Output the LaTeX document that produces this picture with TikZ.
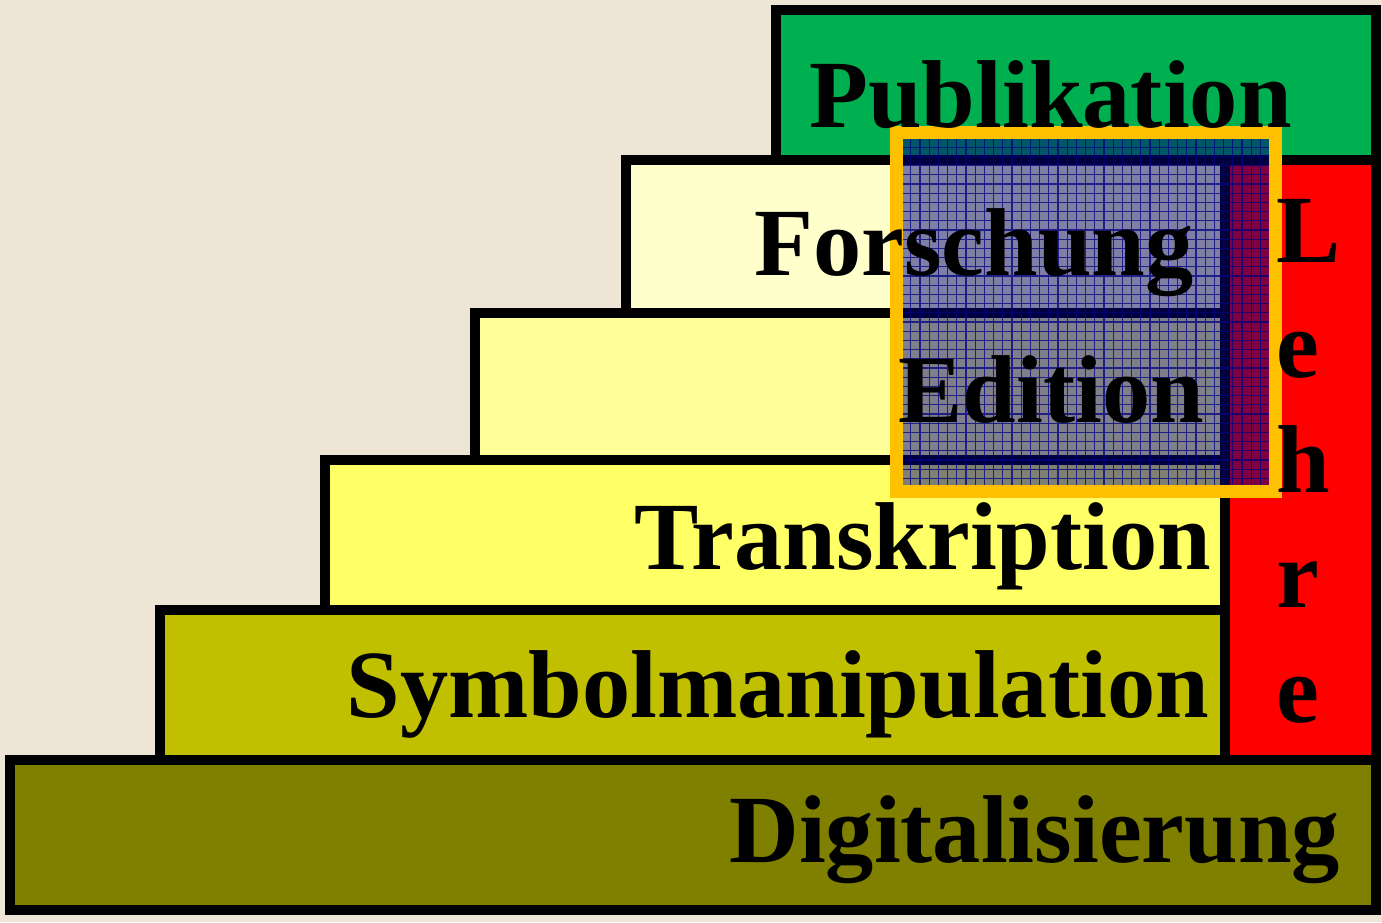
\documentclass[tikz,border=0pt]{standalone}
\usepackage{fontspec}
\setmainfont{Liberation Serif}
\usepackage{tikz}

\definecolor{bgbeige}{RGB}{239,229,214}
\definecolor{digiolive}{RGB}{128,128,0}
\definecolor{symbolive}{RGB}{192,192,0}
\definecolor{transyellow}{RGB}{255,255,102}
\definecolor{edityellow}{RGB}{255,255,153}
\definecolor{forschyellow}{RGB}{255,255,204}
\definecolor{pubgreen}{RGB}{0,176,80}
\definecolor{lehrered}{RGB}{255,0,0}
\definecolor{overlaynavy}{RGB}{0,0,128}
\definecolor{overlayorange}{RGB}{255,192,0}

\begin{document}
\begin{tikzpicture}[x=0.5pt,y=0.5pt,yscale=-1,xscale=1,
  stepbox/.style={draw=black,line width=5pt},
  steplabel/.style={anchor=base west,inner sep=0pt,font=\fontsize{48.2}{57.5}\selectfont\bfseries}]
\useasboundingbox (0,0) rectangle (1382,922);
\fill[bgbeige] (0,0) rectangle (1382,922);

%Shape: Rectangle [Digitalisierung]
\draw[stepbox,fill=digiolive] (10,760) rectangle (1376,910);
%Shape: Rectangle [Symbolmanipulation]
\draw[stepbox,fill=symbolive] (160,610) rectangle (1225,760);
%Shape: Rectangle [Transkription]
\draw[stepbox,fill=transyellow] (325,460) rectangle (1225,610);
%Shape: Rectangle [Edition]
\draw[stepbox,fill=edityellow] (475,313) rectangle (1225,460);
%Shape: Rectangle [Forschung]
\draw[stepbox,fill=forschyellow] (626,160) rectangle (1225,313);
%Shape: Rectangle [Publikation]
\draw[stepbox,fill=pubgreen] (776,10) rectangle (1376,160);
%Shape: Rectangle [Lehre]
\draw[stepbox,fill=lehrered] (1225,160) rectangle (1376,760);

%Shape: Rectangle [overlay, hatched]
\fill[overlaynavy,fill opacity=0.5] (902,135) rectangle (1269,486);
\begin{scope}
\clip (902,135) rectangle (1269,486);
\draw[overlaynavy,line width=0.6pt,draw opacity=0.75,step=4.6pt] (902,135) grid (1269,486);
\end{scope}
\draw[overlayorange,line width=6.5pt] (896.5,132) rectangle (1275,491.5);

% Text Node
\node[steplabel] (publikation) at (809,127) {Publikation};
% Text Node
\node[steplabel] (forschung) at (754,275) {Forschung};
% Text Node
\node[steplabel] (edition) at (898,422) {Edition};
% Text Node
\node[steplabel] (transkription) at (634,569) {Transkription};
% Text Node
\node[steplabel] (symbolmanipulation) at (346,717) {Symbolmanipulation};
% Text Node
\node[steplabel] (digitalisierung) at (729,862) {Digitalisierung};
% Text Node
\foreach \ch [count=\i] in {L,e,h,r,e}
  \node[steplabel] (lehre\i) at (1276,262+115*\i-115) {\ch};
\end{tikzpicture}
\end{document}
